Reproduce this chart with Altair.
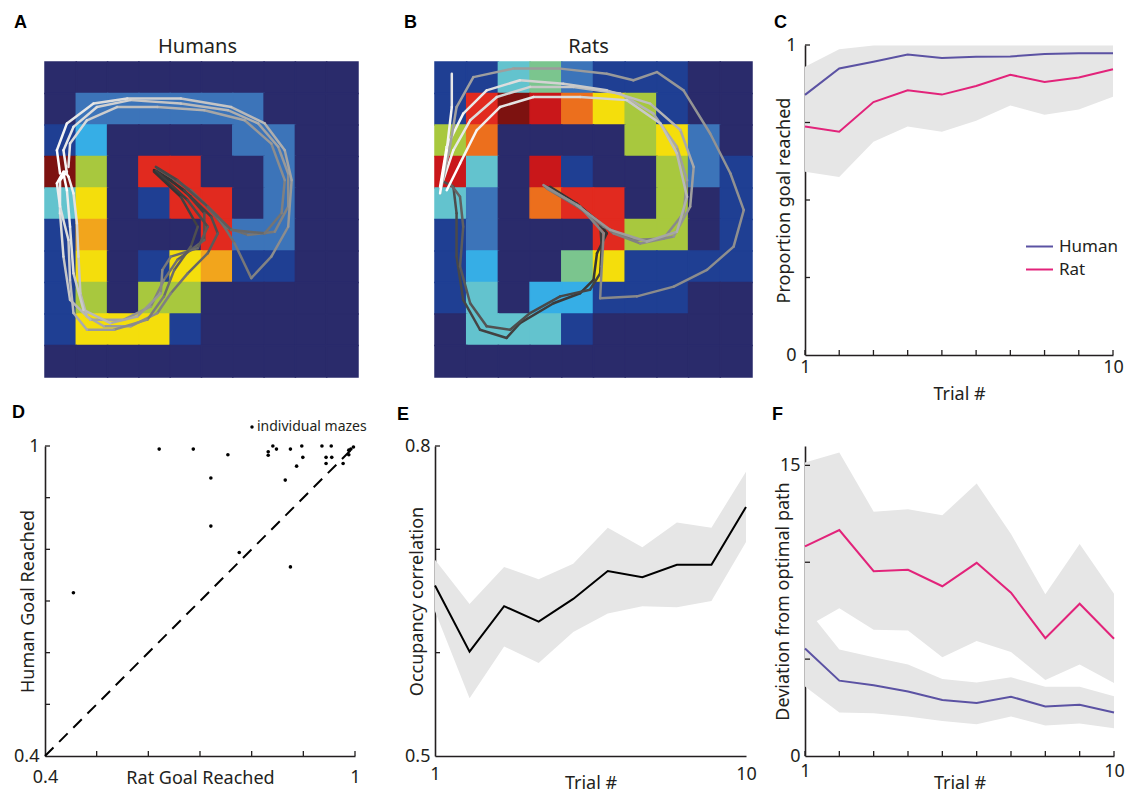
import altair as alt
import pandas as pd

FONT = "Noto Sans"
INK = "#231f20"
BLUE = "#5b52a3"
MAG = "#e2237a"
BAND = "#e6e6e6"

level_colors = ["#2a2b6b", "#1f3f93", "#3c74b9", "#36aee6", "#63c3ce", "#7bc58e",
                "#a8c83e", "#f4de0c", "#f2a51c", "#ec6f1d", "#e12a1f", "#c9171a", "#7d1210"]

human_grid = [
    [0, 0, 0, 0, 0, 0, 0, 0, 0, 0],
    [0, 2, 2, 2, 2, 2, 2, 0, 0, 0],
    [1, 3, 0, 0, 0, 0, 2, 2, 0, 0],
    [12, 6, 0, 10, 10, 0, 0, 2, 0, 0],
    [4, 7, 0, 1, 10, 10, 0, 2, 0, 0],
    [1, 8, 0, 0, 0, 10, 2, 2, 0, 0],
    [1, 7, 0, 1, 7, 8, 1, 1, 0, 0],
    [1, 6, 0, 6, 6, 0, 0, 0, 0, 0],
    [1, 7, 7, 7, 1, 0, 0, 0, 0, 0],
    [0, 0, 0, 0, 0, 0, 0, 0, 0, 0],
]
rat_grid = [
    [1, 1, 4, 5, 2, 1, 1, 1, 0, 0],
    [1, 10, 12, 11, 9, 7, 6, 1, 0, 0],
    [6, 9, 0, 0, 0, 0, 6, 7, 2, 0],
    [11, 4, 0, 11, 1, 0, 0, 6, 2, 1],
    [4, 2, 0, 9, 10, 10, 0, 6, 0, 1],
    [1, 2, 0, 0, 0, 10, 6, 6, 0, 1],
    [1, 3, 0, 0, 5, 7, 1, 1, 1, 1],
    [1, 4, 0, 3, 3, 1, 1, 1, 0, 0],
    [0, 4, 4, 4, 1, 0, 0, 0, 0, 0],
    [0, 0, 0, 0, 0, 0, 0, 0, 0, 0],
]

human_paths = [
    ([3.48, 4.02, 4.66, 5.31, 5.52, 5.20, 4.56, 4.02, 3.59, 2.73, 1.88, 1.34, 1.13, 1.07, 1.02, 0.91, 0.75, 0.64],
     [3.43, 3.75, 4.28, 4.91, 5.44, 6.07, 6.71, 7.34, 7.97, 8.39, 8.39, 8.08, 7.34, 6.18, 5.12, 4.17, 3.64, 3.48]),
    ([3.59, 4.45, 5.09, 5.09, 4.23, 3.80, 3.38, 2.52, 1.45, 0.80, 0.59, 0.48, 0.48, 0.70],
     [3.48, 4.07, 4.80, 5.65, 6.28, 6.92, 7.76, 8.18, 8.18, 7.55, 6.18, 4.80, 3.75, 3.48]),
    ([3.54, 4.55, 5.20, 4.88, 4.02, 3.75, 3.70, 2.95, 2.09, 1.23, 0.91, 0.80, 0.70, 0.59],
     [3.45, 4.38, 5.23, 5.91, 6.18, 6.60, 7.34, 8.08, 8.29, 7.87, 6.71, 5.23, 4.07, 3.54]),
    ([3.59, 4.34, 5.09, 5.73, 6.48, 7.34, 7.77, 7.77, 7.45, 6.81, 5.84, 4.34, 2.73, 1.66, 0.91, 0.59, 0.70],
     [3.38, 3.85, 4.49, 5.23, 5.49, 5.39, 4.59, 3.54, 2.69, 1.95, 1.53, 1.32, 1.21, 1.43, 2.06, 2.80, 3.54]),
    ([3.64, 4.66, 5.52, 6.06, 6.59, 7.23, 7.77, 7.88, 7.66, 7.02, 5.95, 4.34, 2.63, 1.55, 0.70, 0.38, 0.48],
     [3.41, 4.07, 4.91, 5.76, 6.86, 6.18, 5.23, 3.75, 2.80, 1.95, 1.43, 1.16, 1.16, 1.32, 1.95, 2.80, 3.54]),
    ([3.54, 4.23, 5.20, 5.95, 7.02, 7.56, 7.66, 7.23, 6.38, 5.09, 3.59, 2.30, 1.34, 0.80, 0.75],
     [3.33, 3.75, 4.59, 5.33, 5.44, 4.80, 3.75, 2.59, 1.85, 1.53, 1.43, 1.43, 1.85, 2.59, 3.33]),
    ([3.48, 4.34, 4.88, 4.66, 4.13, 3.80, 3.27, 2.20, 1.34, 0.91, 0.80, 0.75, 0.48, 0.38, 0.59],
     [3.48, 4.28, 5.23, 5.86, 6.60, 7.44, 8.18, 8.50, 8.50, 7.97, 6.92, 5.65, 4.59, 3.85, 3.48]),
]
human_shades = [(0.0, 1.0), (0.05, 1.0), (0.1, 1.0), (0.2, 0.95), (0.25, 1.0), (0.15, 0.9), (0.05, 1.0)]

rat_paths = [
    ([3.53, 4.26, 5.11, 5.42, 5.11, 5.00, 4.58, 3.74, 2.68, 2.26, 1.42, 0.89, 0.68, 0.68, 0.58, 0.26],
     [3.96, 4.38, 5.02, 5.44, 6.07, 6.92, 7.34, 7.66, 8.29, 8.76, 8.50, 7.55, 6.18, 4.80, 3.96, 3.80]),
    ([3.63, 4.47, 5.21, 5.26, 5.21, 4.89, 3.95, 3.00, 2.37, 1.63, 1.11, 0.79, 0.89, 0.79, 0.47],
     [3.96, 4.49, 5.12, 5.86, 6.71, 7.23, 7.44, 7.97, 8.50, 8.39, 7.66, 6.49, 5.23, 4.28, 3.85]),
    ([3.47, 4.37, 5.32, 6.26, 7.21, 7.84, 7.95, 7.63, 6.89, 5.84, 4.37, 3.00, 1.95, 1.11, 0.58, 0.26],
     [3.96, 4.49, 5.23, 5.65, 5.60, 4.80, 3.75, 2.69, 1.64, 1.00, 0.79, 0.79, 1.11, 1.85, 2.80, 3.75]),
    ([3.53, 4.68, 5.63, 6.47, 7.53, 8.05, 8.16, 7.74, 6.79, 5.42, 4.05, 2.68, 1.63, 0.89, 0.37, 0.16],
     [4.01, 4.70, 5.44, 5.76, 5.54, 4.59, 3.33, 2.16, 1.32, 0.90, 0.69, 0.58, 0.90, 1.64, 2.69, 3.96]),
    ([3.53, 4.58, 5.32, 5.26, 5.21, 6.37, 7.53, 8.58, 9.42, 9.74, 9.32, 8.68, 7.84, 7.00, 6.26, 5.42, 3.95, 2.47, 1.21, 0.68, 0.47, 0.16],
     [4.01, 4.59, 5.44, 6.49, 7.50, 7.44, 7.13, 6.60, 5.86, 4.70, 3.54, 2.27, 0.90, 0.32, 0.58, 0.37, 0.21, 0.21, 0.48, 1.43, 2.69, 4.17]),
    ([3.42, 4.47, 5.53, 6.68, 7.63, 7.95, 7.63, 7.11, 6.05, 4.58, 3.11, 2.05, 1.32, 0.79, 0.37],
     [3.91, 4.54, 5.33, 5.70, 5.39, 4.28, 2.90, 1.95, 1.21, 1.11, 1.11, 1.43, 2.16, 3.22, 4.07]),
    ([0.53, 0.53, 0.37, 0.16],
     [0.37, 1.43, 2.80, 4.17]),
]
rat_shades = [(0.0, 0.2), (0.05, 0.3), (0.3, 0.95), (0.35, 1.0), (0.45, 0.6), (0.5, 1.0), (0.9, 1.0)]

trials = list(range(1, 11))
c_human = [0.839, 0.924, 0.946, 0.969, 0.958, 0.962, 0.963, 0.971, 0.973, 0.973]
c_rat = [0.737, 0.720, 0.816, 0.854, 0.840, 0.868, 0.904, 0.881, 0.895, 0.922]
c_band_lo = [0.591, 0.574, 0.688, 0.737, 0.720, 0.756, 0.805, 0.775, 0.792, 0.833]
c_band_hi = [0.930, 0.986, 0.998, 0.998, 0.998, 0.998, 0.998, 0.998, 0.998, 0.998]

d_rat = [0.621, 0.687, 0.754, 0.721, 0.721, 0.776, 0.455, 0.832, 0.832, 0.841, 0.848, 0.865, 0.875,
         0.875, 0.887, 0.897, 0.899, 0.936, 0.954, 0.944, 0.955, 0.944, 0.977, 0.988, 0.988, 0.992, 0.997]
d_human = [0.994, 0.994, 0.983, 0.938, 0.845, 0.794, 0.716, 0.989, 0.982, 1.0, 0.994, 0.934, 0.994,
           0.766, 0.961, 1.0, 0.978, 1.0, 1.0, 0.978, 0.978, 0.966, 0.966, 0.992, 0.983, 0.994, 0.998]
d_diag = [0.4, 1.0]

e_mean = [0.665, 0.601, 0.645, 0.630, 0.652, 0.679, 0.673, 0.685, 0.685, 0.741]
e_hi = [0.690, 0.647, 0.683, 0.671, 0.686, 0.721, 0.702, 0.726, 0.721, 0.775]
e_lo = [0.640, 0.556, 0.606, 0.590, 0.620, 0.638, 0.645, 0.644, 0.650, 0.707]

f_rat = [10.82, 11.66, 9.54, 9.61, 8.76, 9.97, 8.43, 6.08, 7.86, 6.05]
f_rat_hi = [15.15, 15.66, 12.61, 12.74, 12.42, 14.07, 11.46, 8.35, 10.94, 8.38]
f_rat_lo = [6.62, 7.62, 6.51, 6.48, 5.10, 5.93, 5.37, 3.92, 4.72, 3.77]
f_human = [5.55, 3.89, 3.65, 3.33, 2.89, 2.73, 3.06, 2.56, 2.64, 2.25]
f_human_hi = [7.71, 5.50, 5.10, 4.72, 3.97, 3.80, 4.06, 3.58, 3.58, 3.09]
f_human_lo = [3.59, 2.25, 2.21, 2.04, 1.81, 1.64, 2.04, 1.57, 1.68, 1.43]


def letter(ch, dx, dy):
    return alt.Chart(pd.DataFrame({"t": [ch]})).mark_text(
        font="Liberation Sans", fontWeight="bold", fontSize=18, color="black",
        align="left", baseline="alphabetic").encode(
        text="t:N", x=alt.value(dx), y=alt.value(dy))


def grid_df(grid):
    rows = []
    for r, row in enumerate(grid):
        for c, v in enumerate(row):
            rows.append({"c0": c, "c1": c + 1, "r0": r, "r1": r + 1, "level": v})
    return pd.DataFrame(rows)


def traj_df(paths, shades):
    rows = []
    for k, ((xs, ys), (s0, s1)) in enumerate(zip(paths, shades)):
        n = len(xs)
        for i in range(n - 1):
            t = i / max(n - 2, 1)
            rows.append({"x": xs[i], "y": ys[i], "xb": xs[i + 1], "yb": ys[i + 1],
                         "shade": s0 + (s1 - s0) * t, "path": k, "seg": i})
    return pd.DataFrame(rows)


def heat_panel(grid, paths, shades, title, ch, width, plot_w, height, title_dx):
    xs = alt.Scale(domain=[0, 10], nice=False, zero=False, range=[0, plot_w])
    ys = alt.Scale(domain=[-0.54, 10], nice=False, zero=False, reverse=True)
    lvl = alt.Scale(domain=list(range(len(level_colors))), range=level_colors)
    cells = alt.Chart(grid_df(grid)).mark_rect(strokeWidth=1.5).encode(
        x=alt.X("c0:Q", scale=xs, axis=None), x2="c1:Q",
        y=alt.Y("r0:Q", scale=ys, axis=None), y2="r1:Q",
        fill=alt.Fill("level:O", scale=lvl, legend=None),
        stroke=alt.Stroke("level:O", scale=lvl, legend=None))
    tr = alt.Chart(traj_df(paths, shades)).mark_rule(strokeWidth=2.5, strokeCap="round").encode(
        x=alt.X("x:Q", scale=xs, axis=None), y=alt.Y("y:Q", scale=ys, axis=None),
        x2="xb:Q", y2="yb:Q",
        color=alt.Color("shade:Q", scale=alt.Scale(domain=[0, 1], range=["#2b2b2b", "#ffffff"]), legend=None))
    ttl = alt.Chart(pd.DataFrame({"t": [title]})).mark_text(
        font=FONT, fontSize=20, color=INK, baseline="alphabetic").encode(
        text="t:N", x=alt.value(plot_w / 2 + title_dx), y=alt.value(8))
    return alt.layer(cells, tr, ttl, letter(ch, -31, -17)).properties(width=width, height=height)


def x_axis(values, title, pad, title_y, plot_w):
    return alt.Axis(values=values, format="~f", title=title, ticks=False, tickSize=0, grid=False,
                    domainColor=INK, domainWidth=1.6, labelFont=FONT, labelFontSize=18, labelColor=INK,
                    labelPadding=pad, labelFlush=False, labelOverlap=False,
                    titleFont=FONT, titleFontSize=18, titleFontWeight="normal", titleColor=INK,
                    titleX=plot_w / 2, titleY=title_y, titleBaseline="alphabetic", titleAlign="center")


def y_axis(values, title, pad, title_x, height):
    return alt.Axis(values=values, format="~f", title=title, ticks=False, tickSize=0, grid=False,
                    domainColor=INK, domainWidth=1.6, labelFont=FONT, labelFontSize=18, labelColor=INK,
                    labelPadding=pad, labelFlush=False, labelOverlap=False,
                    titleFont=FONT, titleFontSize=18, titleFontWeight="normal", titleColor=INK,
                    titleX=title_x, titleY=height / 2, titleBaseline="middle", titleAngle=270,
                    titleAlign="center")


# every layer of a panel carries the same axis object (so the axes merge)
def xticks(vals, scale, axis, height, length=5):
    return alt.Chart(pd.DataFrame({"v": vals})).mark_rule(color=INK, strokeWidth=1.3).encode(
        x=alt.X("v:Q", scale=scale, axis=axis), y=alt.value(height), y2=alt.value(height - length))


def yticks(vals, scale, axis, length=5):
    return alt.Chart(pd.DataFrame({"v": vals})).mark_rule(color=INK, strokeWidth=1.3).encode(
        y=alt.Y("v:Q", scale=scale, axis=axis), x=alt.value(0), x2=alt.value(length))


COL1, COL2, COL3 = 337, 317, 309
H1 = 332

A = heat_panel(human_grid, human_paths, human_shades, "Humans", "A", COL1, 313, H1, -4)
B = heat_panel(rat_grid, rat_paths, rat_shades, "Rats", "B", COL2, 317, H1, -5)

# C
WC, HC = 308, 310
cx = alt.Scale(domain=[1, 10], nice=False, zero=False, range=[0, WC])
cy = alt.Scale(domain=[0, 1], nice=False, zero=False)
cxa = x_axis([1, 10], "Trial #", 3, 44, WC)
cya = y_axis([0, 1], "Proportion goal reached", 9, -21, HC)
c_band = alt.Chart(pd.DataFrame({"trial": trials, "lo": c_band_lo, "hi": c_band_hi})).mark_area(
    color=BAND, opacity=1).encode(
    x=alt.X("trial:Q", scale=cx, axis=cxa),
    y=alt.Y("lo:Q", scale=cy, axis=cya),
    y2="hi:Q")
c_lines = alt.Chart(pd.DataFrame({"trial": trials * 2, "value": c_human + c_rat,
                                  "series": ["Human"] * 10 + ["Rat"] * 10})).mark_line(strokeWidth=2).encode(
    x=alt.X("trial:Q", scale=cx, axis=cxa),
    y=alt.Y("value:Q", scale=cy, axis=cya),
    color=alt.Color("series:N", scale=alt.Scale(domain=["Human", "Rat"], range=[BLUE, MAG]),
                    legend=alt.Legend(orient="none", legendX=220, legendY=187, title=None,
                                      symbolType="stroke", symbolSize=729, symbolStrokeWidth=2,
                                      labelFont=FONT, labelFontSize=17, labelColor=INK,
                                      labelOffset=5, rowPadding=0, padding=0)))
C = alt.layer(c_band, c_lines, yticks([0.25, 0.5, 0.75, 1], cy, cya),
              xticks(trials, cx, cxa, HC),
              letter("C", -31, -17)).properties(width=COL3, height=HC)

# D
WD, HD = 310, 310
dsx = alt.Scale(domain=[0.4, 1], nice=False, zero=False, range=[0, WD])
dsy = alt.Scale(domain=[0.4, 1], nice=False, zero=False)
dxa = x_axis([0.4, 1], "Rat Goal Reached", 12, 27, WD)
dya = y_axis([0.4, 1], "Human Goal Reached", 6, -17, HD)
d_pts = alt.Chart(pd.DataFrame({"rat": d_rat, "human": d_human})).mark_circle(
    size=13, color="black", opacity=1).encode(
    x=alt.X("rat:Q", scale=dsx, axis=dxa),
    y=alt.Y("human:Q", scale=dsy, axis=dya))
d_line = alt.Chart(pd.DataFrame({"v": d_diag})).mark_line(
    color="black", strokeWidth=2, strokeDash=[12, 8]).encode(
    x=alt.X("v:Q", scale=dsx, axis=dxa), y=alt.Y("v:Q", scale=dsy, axis=dya))
d_key_dot = alt.Chart(pd.DataFrame({"t": ["individual mazes"]})).mark_circle(
    size=12, color="black", opacity=1).encode(x=alt.value(207), y=alt.value(-19))
d_key_txt = alt.Chart(pd.DataFrame({"t": ["individual mazes"]})).mark_text(
    font=FONT, fontSize=14, color=INK, align="left", baseline="middle").encode(
    text="t:N", x=alt.value(212), y=alt.value(-19))
tick_d = [0.5, 0.6, 0.7, 0.8, 0.9, 1.0]
D = alt.layer(d_pts, d_line, xticks(tick_d, dsx, dxa, HD), yticks(tick_d, dsy, dya),
              d_key_dot, d_key_txt, letter("D", -33, -28)).properties(width=COL1, height=HD)

# E
WE, HE = 311, 310
ex = alt.Scale(domain=[1, 10], nice=False, zero=False, range=[0, WE])
ey = alt.Scale(domain=[0.5, 0.8], nice=False, zero=False)
exa = x_axis([1, 10], "Trial #", 9, 32, WE)
eya = y_axis([0.5, 0.8], "Occupancy correlation", 5, -18, HE)
e_band = alt.Chart(pd.DataFrame({"trial": trials, "lo": e_lo, "hi": e_hi})).mark_area(
    color=BAND, opacity=1).encode(
    x=alt.X("trial:Q", scale=ex, axis=exa),
    y=alt.Y("lo:Q", scale=ey, axis=eya),
    y2="hi:Q")
e_line = alt.Chart(pd.DataFrame({"trial": trials, "value": e_mean})).mark_line(
    color="black", strokeWidth=2).encode(
    x=alt.X("trial:Q", scale=ex, axis=exa), y=alt.Y("value:Q", scale=ey, axis=eya))
E = alt.layer(e_band, e_line, yticks([0.6, 0.7, 0.8], ey, eya),
              letter("E", -38, -26)).properties(width=COL2, height=HE)

# F
WF, HF = 309, 310
fx = alt.Scale(domain=[1, 10], nice=False, zero=False, range=[0, WF])
fy = alt.Scale(domain=[0, 16], nice=False, zero=False)
fxa = x_axis([1, 10], "Trial #", 6, 32, WF)
fya = y_axis([0, 15], "Deviation from optimal path", 5, -22, HF)
f_rat_band = alt.Chart(pd.DataFrame({"trial": trials, "lo": f_rat_lo, "hi": f_rat_hi})).mark_area(
    color=BAND, opacity=1).encode(
    x=alt.X("trial:Q", scale=fx, axis=fxa), y=alt.Y("lo:Q", scale=fy, axis=fya), y2="hi:Q")
f_hum_band = alt.Chart(pd.DataFrame({"trial": trials, "lo": f_human_lo, "hi": f_human_hi})).mark_area(
    color=BAND, opacity=1).encode(
    x=alt.X("trial:Q", scale=fx, axis=fxa), y=alt.Y("lo:Q", scale=fy, axis=fya), y2="hi:Q")
f_rat_line = alt.Chart(pd.DataFrame({"trial": trials, "value": f_rat})).mark_line(
    color=MAG, strokeWidth=2).encode(
    x=alt.X("trial:Q", scale=fx, axis=fxa), y=alt.Y("value:Q", scale=fy, axis=fya))
f_hum_line = alt.Chart(pd.DataFrame({"trial": trials, "value": f_human})).mark_line(
    color=BLUE, strokeWidth=2).encode(
    x=alt.X("trial:Q", scale=fx, axis=fxa), y=alt.Y("value:Q", scale=fy, axis=fya))
F = alt.layer(f_rat_band, f_hum_band, f_rat_line, f_hum_line, yticks([5, 10, 15], fy, fya),
              xticks(trials, fx, fxa, HF), letter("F", -33, -26)).properties(width=COL3, height=HF)

RES = dict(color="independent", fill="independent", stroke="independent")
chart = alt.concat(A, B, C, D, E, F, columns=3, spacing={"row": 69, "column": 53},
                   bounds="flush").resolve_scale(**RES).properties(
    padding={"left": 12, "top": 14, "right": 2, "bottom": 2}, background="white"
).configure_view(stroke=None)

chart.save("out.html", embed_options={"renderer": "svg", "actions": False})
